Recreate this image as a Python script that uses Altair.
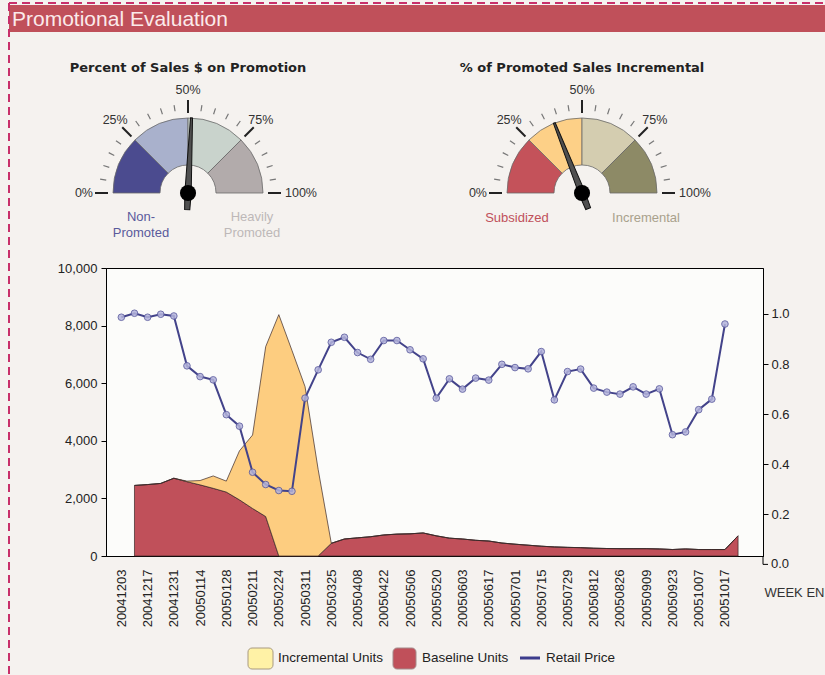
import math
import altair as alt
import pandas as pd

# ---------------- data ----------------
WEEK_LABELS = ["20041203", "20041217", "20041231", "20050114", "20050128", "20050211",
               "20050224", "20050311", "20050325", "20050408", "20050422", "20050506",
               "20050520", "20050603", "20050617", "20050701", "20050715", "20050729",
               "20050812", "20050826", "20050909", "20050923", "20051007", "20051017"]

# units, weeks 1..47 (week index 0 = 20041203)
BASELINE_UNITS = [2450, 2480, 2520, 2700, 2580, 2470, 2350, 2220, 1950, 1650, 1370, 0, 0, 0, 0,
                  440, 590, 630, 670, 730, 760, 770, 800, 700, 620, 590, 545, 520, 450, 410,
                  375, 340, 315, 300, 290, 270, 260, 255, 255, 255, 245, 225, 245, 225, 225,
                  225, 700]
INCREMENTAL_UNITS = [0, 0, 0, 0, 20, 150, 430, 380, 1700, 2550, 5900, 8380, 7140, 5880, 3000,
                     0, 0, 0, 0, 0, 0, 0, 0, 0, 0, 0, 0, 0, 0, 0, 0, 0, 0, 0, 0, 0, 0, 0, 0,
                     0, 0, 0, 0, 0, 0, 0, 0]
# retail price, weeks 0..46
RETAIL_PRICE = [0.987, 1.003, 0.987, 0.999, 0.992, 0.793, 0.750, 0.737, 0.598, 0.552, 0.368,
                0.319, 0.295, 0.292, 0.664, 0.777, 0.887, 0.907, 0.846, 0.819, 0.894, 0.894,
                0.857, 0.821, 0.664, 0.741, 0.700, 0.744, 0.736, 0.799, 0.786, 0.781, 0.850,
                0.657, 0.770, 0.780, 0.704, 0.688, 0.680, 0.709, 0.680, 0.701, 0.518, 0.529,
                0.618, 0.660, 0.960]

SERIES = ["Baseline Units", "Incremental Units"]
SERIES_COLORS = ["#c0505a", "#fdcd80"]
LEGEND_LABELS = ["Incremental Units", "Baseline Units", "Retail Price"]

UNIT_TICKS = [0, 2000, 4000, 6000, 8000, 10000]
PRICE_TICKS = [0.0, 0.2, 0.4, 0.6, 0.8, 1.0]

GAUGE_BREAKS = [0, 25, 50, 75, 100]
GAUGE_MINOR = [p for p in range(5, 100, 5) if p % 25 != 0]
G1_TITLE = "Percent of Sales $ on Promotion"
G1_VALUE = 51.5
G1_COLORS = ["#4b4b8f", "#a9b1cc", "#c9d3cc", "#b2abab"]
G1_SIDE = ["Non-\nPromoted", "Heavily\nPromoted"]
G2_TITLE = "% of Promoted Sales Incremental"
G2_VALUE = 38
G2_COLORS = ["#c4525a", "#fdd087", "#d4cdb0", "#8d8a66"]
G2_SIDE = ["Subsidized", "Incremental"]

HEADER_TITLE = "Promotional Evaluation"

# ---------------- layout ----------------
W, H = 657, 288
PAD = {"left": 106, "top": 268, "right": 62, "bottom": 119}
FONT = "Liberation Sans"

area_rows = []
for i, (b, inc) in enumerate(zip(BASELINE_UNITS, INCREMENTAL_UNITS), start=1):
    area_rows.append({"week": i, "series": SERIES[0], "units": b, "ord": 0})
    area_rows.append({"week": i, "series": SERIES[1], "units": inc, "ord": 1})
area_df = pd.DataFrame(area_rows)
price_df = pd.DataFrame({"week": list(range(len(RETAIL_PRICE))), "price": RETAIL_PRICE})

label_js = "[" + ",".join("'%s'" % s for s in WEEK_LABELS) + "]"
X_SCALE = alt.Scale(domain=[-1.17, 48.9], nice=False, zero=False)
X_AXIS = alt.Axis(values=list(range(0, 2 * len(WEEK_LABELS), 2)),
                  labelExpr=label_js + "[round(datum.value/2)]",
                  labelAngle=270, labelAlign="right", labelBaseline="middle",
                  ticks=False, tickSize=0, labelPadding=13, grid=False,
                  domainColor="#000", labelFontSize=13, labelColor="#222",
                  title="WEEK ENDING", titleX=658, titleY=36, titleAlign="left",
                  titleAngle=0, titleBaseline="middle", titleFontWeight="normal",
                  titleFontSize=13, titleColor="#333", titleFont=FONT)
PRICE_SCALE = alt.Scale(domain=[0.0335, 1.1837], nice=False, zero=False)

area = alt.Chart(area_df).mark_area(stroke="#3a2626", strokeWidth=0.7).encode(
    x=alt.X("week:Q", scale=X_SCALE, axis=X_AXIS),
    y=alt.Y("units:Q", stack="zero",
            scale=alt.Scale(domain=[0, 10000], nice=False),
            axis=alt.Axis(values=UNIT_TICKS, format=",.0f",
                          orient="left", title=None, grid=False, tickSize=5,
                          tickColor="#000", domainColor="#000", labelPadding=4,
                          labelFontSize=13, labelColor="#222")),
    color=alt.Color("series:N", scale=alt.Scale(domain=SERIES, range=SERIES_COLORS), legend=None),
    order=alt.Order("ord:Q"),
)

line = alt.Chart(price_df).mark_line(
    color="#43438a", strokeWidth=2,
    point=alt.OverlayMarkDef(filled=True, fill="#b4b4dc", stroke="#5a5a9e",
                             strokeWidth=1, size=44, opacity=0.85),
).encode(
    x=alt.X("week:Q", scale=X_SCALE, axis=X_AXIS),
    y=alt.Y("price:Q", scale=PRICE_SCALE,
            axis=alt.Axis(values=PRICE_TICKS, format=".1f", orient="right",
                          title=None, grid=False, tickSize=5, tickColor="#000",
                          domainColor="#000", labelPadding=3, labelFontSize=13,
                          labelColor="#222")),
)

# the 0.0 tick of the price axis sits just below the plot frame
zero_df = pd.DataFrame({"v": [PRICE_TICKS[0]], "t": ["%.1f" % PRICE_TICKS[0]]})
zero_stem = alt.Chart(zero_df).mark_rule(color="#000", strokeWidth=1).encode(
    x=alt.value(W), y=alt.Y("v:Q", scale=PRICE_SCALE, axis=None), y2=alt.value(H))
zero_tick = alt.Chart(zero_df).mark_rule(color="#000", strokeWidth=1).encode(
    x=alt.value(W), x2=alt.value(W + 5), y=alt.Y("v:Q", scale=PRICE_SCALE, axis=None))
zero_text = alt.Chart(zero_df).mark_text(font=FONT, fontSize=13, color="#222", align="left",
                                         baseline="middle").encode(
    x=alt.value(W + 8), y=alt.Y("v:Q", scale=PRICE_SCALE, axis=None), text="t:N")

# ---------------- gauges ----------------
THETA = alt.Scale(domain=[0, 100], range=[1.5 * math.pi, 2.5 * math.pi])
ANGLE = alt.Scale(domain=[0, 100], range=[270, 450])
NEEDLE = "M -0.042 0 L -0.013 -0.99 L 0.013 -0.99 L 0.042 0 L 0.034 0.22 L -0.034 0.22 Z"


def gauge(cx, cy, title, value, colors, side, side_colors, side_dx, side_dy):
    out = []
    out.append(alt.Chart(pd.DataFrame({"t": [title]})).mark_text(
        font="DejaVu Sans", fontWeight="bold", fontSize=13, color="#222",
        baseline="middle", align="center").encode(
        x=alt.value(cx), y=alt.value(cy - 125), text="t:N"))
    seg = pd.DataFrame({"start": GAUGE_BREAKS[:-1], "end": GAUGE_BREAKS[1:], "fill": colors})
    out.append(alt.Chart(seg).mark_arc(radius=75, radius2=28, stroke="#6a6a6a",
                                       strokeWidth=0.8).encode(
        x=alt.value(cx), y=alt.value(cy),
        theta=alt.Theta("start:Q", scale=THETA, stack=None), theta2="end:Q",
        fill=alt.Fill("fill:N", scale=None)))
    out.append(alt.Chart(pd.DataFrame({"p": GAUGE_MINOR})).mark_point(
        shape="M 0 -0.93 L 0 -1", size=178 ** 2, filled=False, color="#777",
        strokeWidth=1.2, opacity=1).encode(
        x=alt.value(cx), y=alt.value(cy), angle=alt.Angle("p:Q", scale=ANGLE)))
    out.append(alt.Chart(pd.DataFrame({"p": GAUGE_BREAKS})).mark_point(
        shape="M 0 -0.86 L 0 -1", size=186 ** 2, filled=False, color="#222",
        strokeWidth=2, opacity=1).encode(
        x=alt.value(cx), y=alt.value(cy), angle=alt.Angle("p:Q", scale=ANGLE)))
    labs = pd.DataFrame({"p": GAUGE_BREAKS, "t": ["%d%%" % p for p in GAUGE_BREAKS]})
    for cond, r, al in [("datum.p > 0 && datum.p < 100", 103, "center"),
                        ("datum.p == 0", 95, "right"), ("datum.p == 100", 97, "left")]:
        out.append(alt.Chart(labs).transform_filter(cond).mark_text(
            radius=r, align=al, baseline="middle", font=FONT, fontSize=12.5,
            color="#333").encode(
            x=alt.value(cx), y=alt.value(cy),
            theta=alt.Theta("p:Q", scale=THETA, stack=None), text="t:N"))
    vdf = pd.DataFrame({"v": [value]})
    out.append(alt.Chart(vdf).mark_point(shape=NEEDLE, size=152 ** 2, filled=True,
                                         fill="#505050", stroke="#111", strokeWidth=1,
                                         opacity=1).encode(
        x=alt.value(cx), y=alt.value(cy), angle=alt.Angle("v:Q", scale=ANGLE)))
    out.append(alt.Chart(vdf).mark_point(shape="circle", size=260, filled=True,
                                         color="#000", opacity=1).encode(
        x=alt.value(cx), y=alt.value(cy)))
    for txt, col, dx in zip(side, side_colors, side_dx):
        out.append(alt.Chart(pd.DataFrame({"t": [txt]})).mark_text(
            font=FONT, fontSize=13, color=col, align="center", baseline="middle",
            lineBreak="\n", lineHeight=16).encode(
            x=alt.value(cx + dx), y=alt.value(cy + side_dy), text="t:N"))
    return out


g1 = gauge(82, -75, G1_TITLE, G1_VALUE, G1_COLORS, G1_SIDE, ["#5a5a9c", "#bdb8b8"],
           [-47, 64], 24)
g2 = gauge(476, -75, G2_TITLE, G2_VALUE, G2_COLORS, G2_SIDE, ["#c0505a", "#a9a18c"],
           [-65, 64], 25)

# ---------------- header & frame ----------------
one = pd.DataFrame({"t": [HEADER_TITLE]})
band = alt.Chart(one).mark_rect(color="#c0505a").encode(
    x=alt.value(-97), x2=alt.value(719), y=alt.value(-263), y2=alt.value(-236))
head = alt.Chart(one).mark_text(font=FONT, fontSize=21, color="#fbeaea", align="left",
                                baseline="alphabetic").encode(
    x=alt.value(-94), y=alt.value(-242.5), text="t:N")
dash_top = alt.Chart(one).mark_rule(color="#c8306a", strokeWidth=2, strokeDash=[8, 5]).encode(
    x=alt.value(-97), x2=alt.value(719), y=alt.value(-265))
dash_left = alt.Chart(one).mark_rule(color="#c8306a", strokeWidth=2, strokeDash=[8, 5]).encode(
    x=alt.value(-97), y=alt.value(-265), y2=alt.value(407))

# ---------------- legend ----------------
leg_y = 390
leg = []
leg.append(alt.Chart(one).mark_rect(fill="#fff2a6", stroke="#a89a80", cornerRadius=4).encode(
    x=alt.value(142), x2=alt.value(167), y=alt.value(leg_y - 10), y2=alt.value(leg_y + 11)))
leg.append(alt.Chart(one).mark_rect(fill="#c0505a", stroke="#a48a8a", cornerRadius=4).encode(
    x=alt.value(287), x2=alt.value(310), y=alt.value(leg_y - 10), y2=alt.value(leg_y + 11)))
leg.append(alt.Chart(one).mark_rule(color="#3c3c8c", strokeWidth=3).encode(
    x=alt.value(414), x2=alt.value(434), y=alt.value(leg_y)))
for txt, lx in zip(LEGEND_LABELS, [172, 316, 440]):
    leg.append(alt.Chart(pd.DataFrame({"t": [txt]})).mark_text(
        font=FONT, fontSize=13.5, color="#222", align="left", baseline="middle").encode(
        x=alt.value(lx), y=alt.value(leg_y), text="t:N"))

chart = alt.layer(
    band, head, dash_top, dash_left, *g1, *g2, area, line,
    zero_stem, zero_tick, zero_text, *leg
).resolve_scale(y="independent").properties(
    width=W, height=H, padding=PAD,
    autosize=alt.AutoSizeParams(type="none"),
    background="#f5f2ef",
).configure_view(stroke="#000", strokeWidth=1, fill="#fcfcfa").configure_axis(
    labelFont=FONT, titleFont=FONT)

chart.save("out.html", embed_options={"renderer": "svg", "actions": False})
